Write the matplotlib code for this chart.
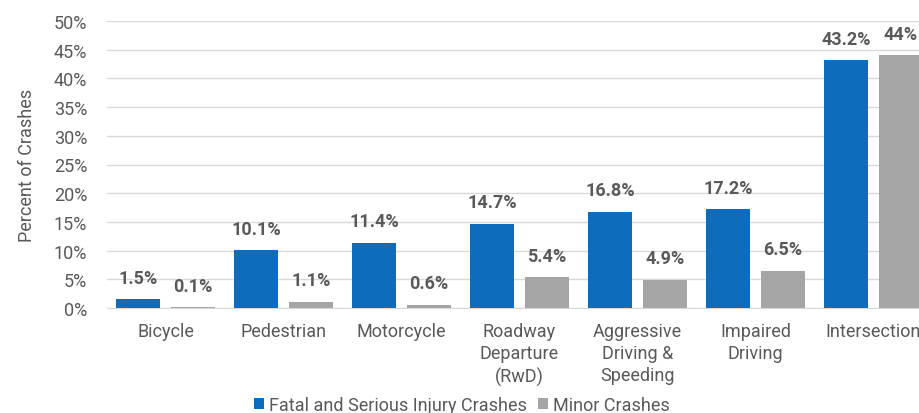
import matplotlib

matplotlib.use("Agg")
import matplotlib.pyplot as plt
import numpy as np

categories = ["Bicycle", "Pedestrian", "Motorcycle", "Roadway\nDeparture\n(RwD)",
              "Aggressive\nDriving &\nSpeeding", "Impaired\nDriving", "Intersection"]
fatal = [1.5, 10.1, 11.4, 14.7, 16.8, 17.2, 43.2]
minor = [0.1, 1.1, 0.6, 5.4, 4.9, 6.5, 44.0]
fatal_labels = ["1.5%", "10.1%", "11.4%", "14.7%", "16.8%", "17.2%", "43.2%"]
minor_labels = ["0.1%", "1.1%", "0.6%", "5.4%", "4.9%", "6.5%", "44%"]

BLUE = "#0F6CBD"
GRAY = "#A5A5A5"
TEXT = "#595959"
FS = 13

plt.rcParams["font.family"] = ["Roboto", "DejaVu Sans"]

fig = plt.figure(figsize=(9.19, 4.14), dpi=100)
ax = fig.add_axes([106.5 / 919, 1 - 309 / 414, 826 / 919, 287 / 414])

x = np.arange(len(categories))
width = 0.38
offset = 0.233
b1 = ax.bar(x - offset, fatal, width, color=BLUE, label="Fatal and Serious Injury Crashes", zorder=3)
b2 = ax.bar(x + offset, minor, width, color=GRAY, label="Minor Crashes", zorder=3)

for bars, labels in ((b1, fatal_labels), (b2, minor_labels)):
    for bar, lab in zip(bars, labels):
        ax.annotate(lab, (bar.get_x() + bar.get_width() / 2, bar.get_height()),
                    xytext=(0, 9), textcoords="offset points", ha="center", va="bottom",
                    fontsize=FS, fontweight="bold", color=TEXT)

ax.set_xlim(-0.5, len(categories) - 0.5)
ax.set_ylim(0, 50)
ax.set_yticks(np.arange(0, 51, 5))
ax.set_yticklabels([f"{v}%" for v in range(0, 51, 5)])
ax.set_xticks(x)
ax.set_xticklabels(categories, linespacing=1.3)
ax.tick_params(axis="both", length=0, labelsize=FS, labelcolor=TEXT)
ax.tick_params(axis="x", pad=10)
ax.tick_params(axis="y", pad=14)
ax.grid(axis="y", color="#D9D9D9", linewidth=1, zorder=0)
for side in ("top", "right", "left"):
    ax.spines[side].set_visible(False)
ax.spines["bottom"].set_color("#D9D9D9")
ax.set_ylabel("Percent of Crashes", fontsize=FS, color=TEXT, labelpad=13)

fig.legend(loc="center", bbox_to_anchor=(462 / 919, 1 - 406 / 414), ncol=2, frameon=False,
           fontsize=FS, labelcolor=TEXT, handlelength=0.55, handleheight=0.55,
           handletextpad=0.3, columnspacing=0.6)

fig.savefig("out.png", dpi=100)
